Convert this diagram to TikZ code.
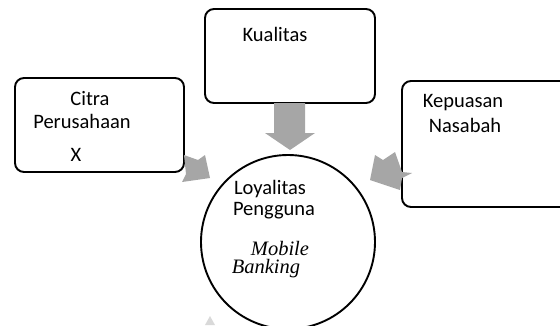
\documentclass[tikz,border=0pt]{standalone}
\usepackage{fontspec}
\setmainfont{Carlito}
\newfontfamily\timesit{Liberation Serif}
\begin{document}
\begin{tikzpicture}[x=1pt,y=-1pt,
  box/.style={draw=black,line width=1.9pt,rounded corners=9pt,fill=white},
  blockarrow/.style={fill=arrowgray,draw=none},
  lbl/.style={inner sep=0pt,font=\fontsize{20.5}{24}\selectfont},
  itlbl/.style={inner sep=0pt,font=\fontsize{20.5}{24}\timesit\itshape}]
\definecolor{arrowgray}{RGB}{166,166,166}
\useasboundingbox (0,0) rectangle (560,325);
\clip (0,0) rectangle (560,325);
% boxes
\draw[box] (15,78) rectangle (184,172);
\node[coordinate] (citra) at (99,125) {};
\draw[box] (205,9) rectangle (375,103);
\node[coordinate] (kualitas) at (290,56) {};
\draw[box] (402,81) rectangle (575,207);
\node[coordinate] (kepuasan) at (488,144) {};
% block arrows
\fill[blockarrow] (274,103) -- (305,103) -- (305,133) -- (315,133) -- (290,150) -- (265,133) -- (274,133) -- cycle;
\fill[blockarrow] (184,155) -- (198,160) -- (205,155) -- (210,178) -- (182,182) -- (186,174) -- cycle;
\fill[blockarrow] (375,155) -- (383,160) -- (395,152) -- (402,172) -- (412,173) -- (402,178) -- (400,190) -- (370,180) -- cycle;
\fill[black!15] (205,325) -- (210,316) -- (215,325) -- cycle;
% central circle
\draw[line width=1.9pt,fill=white] (288,242) circle (87) node[coordinate] (loyal) {};
% labels
\node[lbl] (t1) at (90,99) {Citra};
\node[lbl] (t2) at (82,121) {Perusahaan};
\node[lbl] (t3) at (76,155) {X};
\node[lbl] (t4) at (275,34) {Kualitas};
\node[lbl] (t5) at (463,103) {Kepuasan};
\node[lbl] (t6) at (465,125) {Nasabah};
\node[lbl] (t7) at (270,189) {Loyalitas};
\node[lbl] (t8) at (274,211) {Pengguna};
\node[itlbl] (t9) at (280,248) {Mobile};
\node[itlbl] (t10) at (266,269) {Banking};
\end{tikzpicture}
\end{document}
